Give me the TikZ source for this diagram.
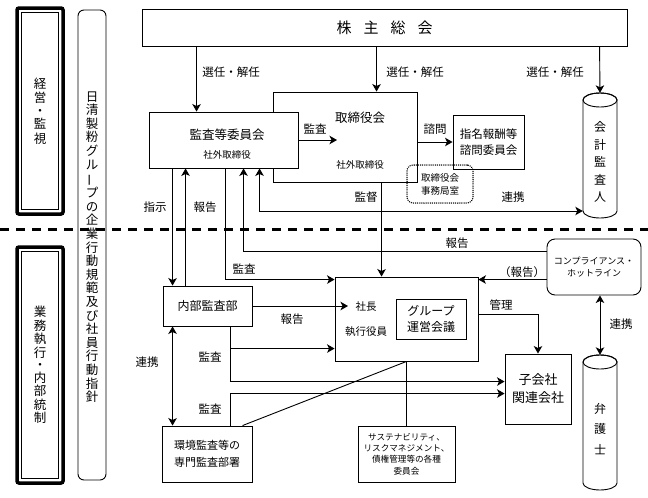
\documentclass[tikz,border=0pt]{standalone}
\usepackage{graphicx}
\usepackage{fontspec}
\setmainfont{Noto Sans CJK JP}
\usetikzlibrary{arrows.meta}
\begin{document}
\begin{tikzpicture}[x=1pt,y=-1pt,
  lw/.style={line width=0.9pt},
  box/.style={draw, line width=0.9pt, fill=white, inner sep=0pt},
  arr/.style={line width=0.9pt, -{Stealth[length=7.5pt,width=8.5pt,inset=2pt]}},
  darr/.style={line width=0.9pt, {Stealth[length=7.5pt,width=8.5pt,inset=2pt]}-{Stealth[length=7.5pt,width=8.5pt,inset=2pt]}},
  plain/.style={line width=0.9pt},
  lbl/.style={inner sep=0pt, font=\fontsize{11.5}{13}\selectfont},
  txtA/.style={inner sep=0pt, align=center, font=\fontsize{12.5}{16}\selectfont},
  txtS/.style={inner sep=0pt, align=center, font=\fontsize{9.5}{12}\selectfont},
  vtxt/.style={inner sep=0pt, align=center},
]
\fill[white] (0,0) rectangle (648,498);
\useasboundingbox (0,0) rectangle (648,498);

% left bands
\draw[line width=3.5pt, rounded corners=2pt] (17,8) rectangle (63,214);
\draw[line width=0.7pt] (21.5,12.5) rectangle (58.5,209.5);
\node[vtxt, font=\fontsize{12.5}{14.5}\selectfont] (keiei) at (40,111) {経\\営\\[-1.5pt]・\\[-1.5pt]監\\視};
\draw[line width=3.5pt, rounded corners=2pt] (17,247) rectangle (63,483);
\draw[line width=0.7pt] (21.5,251.5) rectangle (58.5,478.5);
\node[vtxt, font=\fontsize{12.5}{13.5}\selectfont] (gyomu) at (40,365) {業\\務\\執\\行\\[-1pt]・\\[-1pt]内\\部\\統\\制};

% tall code-of-conduct band
\draw[line width=0.9pt, rounded corners=6pt] (78,10) rectangle (106,480);
\node[vtxt, font=\fontsize{12.5}{13.6}\selectfont] (kodo) at (92,247)
 {日\\清\\製\\粉\\グ\\ル\\\rotatebox[origin=c]{90}{ー}\\プ\\の\\企\\業\\行\\動\\規\\範\\及\\び\\社\\員\\行\\動\\指\\針};

% boxes
\node[box, minimum width=485pt, minimum height=37pt, font=\fontsize{15}{17}\selectfont] (share) at (384.5,27.5) {株\hspace{12pt}主\hspace{12pt}総\hspace{12pt}会};
\node[box, minimum width=144pt, minimum height=90pt] (tori) at (345,137) {};
\node[txtA] (toriT) at (360,118) {取締役会};
\node[txtS] (toriS) at (360,165) {社外取締役};
\node[box, minimum width=149pt, minimum height=56pt] (kansa) at (223.5,140) {};
\node[txtA] (kansaT) at (227,135) {監査等委員会};
\node[txtS] (kansaS) at (227,155) {社外取締役};
\node[box, minimum width=71pt, minimum height=54pt, align=center, font=\fontsize{11.5}{15.5}\selectfont] (shimei) at (488.5,142) {指名報酬等\\諮問委員会};
\node[draw, line width=1.5pt, dash pattern=on 0.01pt off 2.1pt, line cap=round, rounded corners=6pt, minimum width=66pt, minimum height=38pt, inner sep=0pt, align=center, font=\fontsize{9.5}{13}\selectfont] (jimu) at (440,184) {取締役会\\事務局室};

% accounting auditor cylinder
\node[inner sep=0pt, minimum width=34pt, minimum height=125pt] (kaikei) at (600,155.5) {};
\draw[lw, fill=white] (583,100) -- (583,211) arc[start angle=180,end angle=360,x radius=17pt,y radius=7pt] -- (617,100) arc[start angle=0,end angle=180,x radius=17pt,y radius=7pt] -- cycle;
\draw[lw] (600,100) ellipse [x radius=17pt, y radius=7pt];
\node[vtxt, font=\fontsize{12}{17.5}\selectfont] (kaikeiT) at (600,162) {会\\計\\監\\査\\人};

% lawyer cylinder
\node[inner sep=0pt, minimum width=34pt, minimum height=135pt] (bengo) at (600,422.5) {};
\draw[lw, fill=white] (583,362) -- (583,483) arc[start angle=180,end angle=360,x radius=17pt,y radius=7pt] -- (617,362) arc[start angle=0,end angle=180,x radius=17pt,y radius=7pt] -- cycle;
\draw[lw] (600,362) ellipse [x radius=17pt, y radius=7pt];
\node[vtxt, font=\fontsize{12}{20.5}\selectfont] (bengoT) at (600,429) {弁\\護\\士};

\node[box, minimum width=89pt, minimum height=40pt, font=\fontsize{12}{14}\selectfont] (naibu) at (207.5,306) {内部監査部};
\node[box, minimum width=143pt, minimum height=84pt] (shacho) at (406.5,319) {};
\node[inner sep=0pt, font=\fontsize{10.5}{12}\selectfont] (shachoT) at (366,307) {社長};
\node[inner sep=0pt, font=\fontsize{10.5}{12}\selectfont] (shikko) at (366,332) {執行役員};
\node[box, minimum width=70pt, minimum height=40pt, align=center, font=\fontsize{12}{16}\selectfont] (group) at (431,319) {グループ\\運営会議};
\node[box, rounded corners=8pt, minimum width=94pt, minimum height=56pt, align=center, font=\fontsize{9}{12}\selectfont] (comp) at (594,267) {コンプライアンス・\\ホットライン};
\node[box, minimum width=66pt, minimum height=70pt, align=center, font=\fontsize{13}{18}\selectfont] (kogaisha) at (538,389) {子会社\\関連会社};
\node[box, minimum width=90pt, minimum height=56pt, align=center, font=\fontsize{11}{17}\selectfont] (kankyo) at (207,454) {環境監査等の\\専門監査部署};
\node[box, minimum width=97pt, minimum height=56pt, align=center, font=\fontsize{8.6}{11.3}\selectfont] (sust) at (406.5,454) {サステナビリティ、\\リスクマネジメント、\\債権管理等の各種\\委員会};

% dashed boundary
\coordinate (dl) at (0,229);
\coordinate (dr) at (648,229);
\draw[line width=3pt, dash pattern=on 9pt off 7pt] (dl) -- (dr);

% connectors from shareholders meeting
\draw[arr] ([xshift=55pt]share.south west) -- ([xshift=48pt]kansa.north west);
\node[lbl] (l1) at (231,72) {選任・解任};
\draw[arr] ([xshift=235pt]share.south west) -- ([xshift=104pt]tori.north west);
\node[lbl] (l2) at (415,72) {選任・解任};
\draw[arr] ([xshift=458pt]share.south west) -- (kaikei.north);
\node[lbl] (l3) at (555,72) {選任・解任};

% audit committee -> board
\coordinate (kansaTip) at (337,140);
\draw[arr] (kansa.east) -- (kansaTip);
\node[lbl] (l4) at (315,129) {監査};
% board -> nomination committee
\draw[arr] (tori.east |- shimei.west) -- (shimei.west);
\node[lbl] (l5) at (435,129) {諮問};
% audit committee <-> accounting auditor
\draw[darr] ([xshift=111pt]kansa.south west) |- ([yshift=-55.5pt]kaikei.west);
\node[lbl] (l6) at (513,197) {連携};
% board -> president
\draw[arr] ([xshift=109pt]tori.south west) -- ([xshift=47pt]shacho.north west);
\node[lbl] (l7) at (366,197) {監督};
% audit committee <-> internal audit
\draw[arr] ([xshift=24pt]kansa.south west) -- ([xshift=10pt]naibu.north west);
\node[lbl] (l8) at (155,207) {指示};
\draw[arr] ([xshift=23pt]naibu.north west) -- ([xshift=37pt]kansa.south west);
\node[lbl] (l9) at (205,207) {報告};
% audit committee -> president
\draw[arr] ([xshift=77pt]kansa.south west) |- ([yshift=-3pt]shacho.north west);
\node[lbl] (l10) at (244,269) {監査};
% hotline -> audit committee
\draw[arr] ([yshift=-13pt]comp.north west) -| ([xshift=95pt]kansa.south west);
\node[lbl] (l11) at (457,243) {報告};
% hotline -> president
\draw[arr] ([yshift=-41pt]comp.north west) -- ([yshift=-3pt]shacho.north east);
\node[lbl] (l12) at (522,272) {（報告）};
% president -> subsidiaries
\draw[arr] ([yshift=-38pt]shacho.north east) -| (kogaisha.north);
\node[lbl] (l13) at (501,305) {管理};
% hotline <-> lawyer
\draw[darr] (comp.south -| bengo.north) -- (bengo.north);
\node[lbl] (l14) at (621,324) {連携};
% internal audit -> president
\coordinate (shachoTip) at (348,306);
\draw[arr] (naibu.east) -- (shachoTip);
\node[lbl] (l15) at (292,319) {報告};
% internal audit audits
\draw[arr] ([xshift=68pt]naibu.south west) |- ([yshift=-72pt]shacho.north west);
\node[lbl] (l16) at (210,357) {監査};
% diagonal and vertical
\draw[plain] (shacho.south) -- ([xshift=81pt]kankyo.north west);
\draw[plain] (shacho.south) -- (sust.north);
\draw[arr] ([xshift=68pt]naibu.south west) |- ([yshift=-28pt]kogaisha.north west);
\draw[arr] ([xshift=69pt]kankyo.north west) |- ([yshift=-40pt]kogaisha.north west);
\node[lbl] (l17) at (210,409) {監査};
% internal audit <-> specialist
\draw[darr] ([xshift=10pt]naibu.south west) -- ([xshift=11pt]kankyo.north west);
\node[lbl] (l18) at (147,362) {連携};
\end{tikzpicture}
\end{document}
